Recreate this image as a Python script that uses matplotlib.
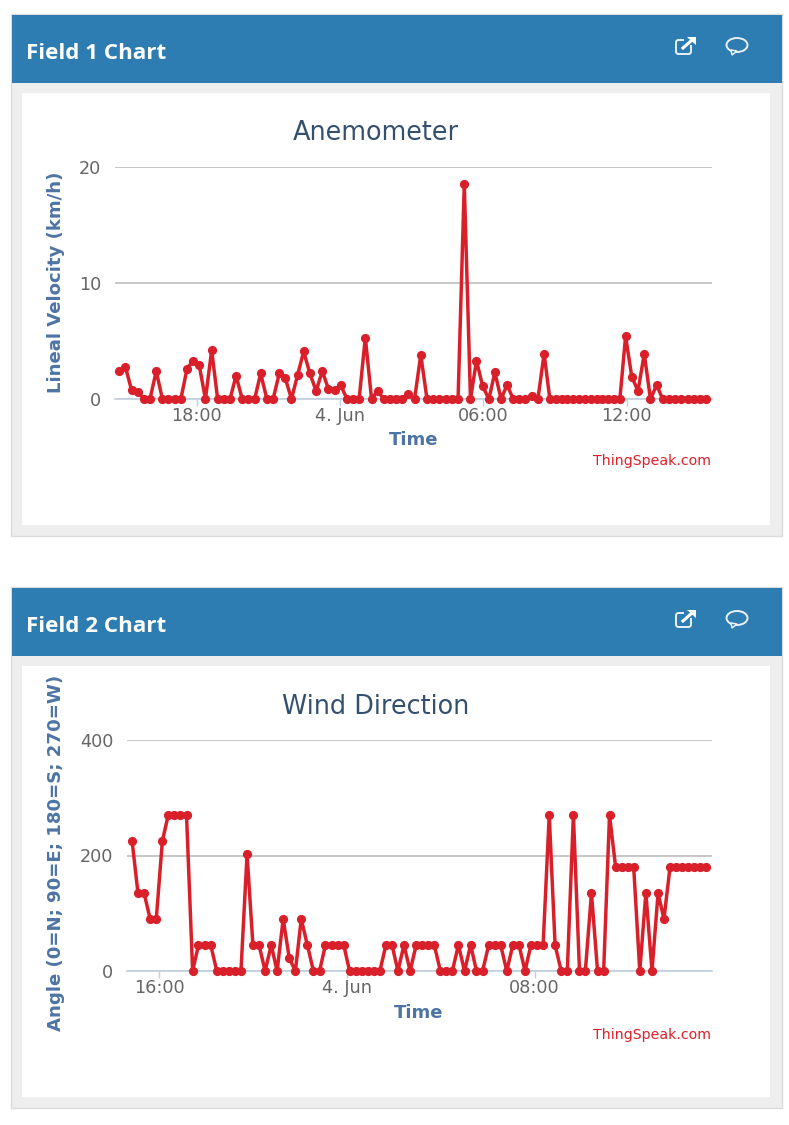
import matplotlib
matplotlib.use("Agg")
import matplotlib.pyplot as plt
from matplotlib.patches import Rectangle, FancyBboxPatch, Ellipse, Polygon

plt.rcParams['font.family'] = ['DejaVu Sans']
W, H = 789, 1125

# ---------- data ----------
hours1 = [-9.23,-8.98,-8.72,-8.46,-8.20,-7.95,-7.69,-7.43,-7.18,-6.92,
          -6.66,-6.40,-6.15,-5.89,-5.63,-5.37,-5.12,-4.86,-4.60,-4.35,
          -4.09,-3.83,-3.57,-3.32,-3.06,-2.80,-2.54,-2.29,-2.03,-1.77,
          -1.52,-1.26,-1.00,-0.74,-0.49,-0.23,0.03,0.29,0.54,0.80,
          1.06,1.32,1.57,1.83,2.09,2.34,2.60,2.86,3.12,3.38,
          3.64,3.90,4.16,4.42,4.68,4.94,5.20,5.46,5.71,5.97,
          6.23,6.48,6.74,6.99,7.25,7.51,7.76,8.02,8.28,8.54,
          8.78,9.02,9.27,9.51,9.76,10.00,10.25,10.49,10.74,10.98,
          11.22,11.47,11.71,11.95,12.21,12.47,12.73,12.99,13.25,13.50,
          13.76,14.02,14.28,14.54,14.80,15.06,15.31]
velocity = [2.4,2.8,.75,.6,0,0,2.4,0,0,0,
            0,2.6,3.3,2.9,0,4.2,0,0,0,2.0,
            0,0,0,2.2,0,0,2.2,1.8,0,2.1,
            4.1,2.2,.7,2.4,.9,.8,1.2,0,0,0,
            5.3,0,.7,0,0,0,0,.4,0,3.8,
            0,0,0,0,0,0,18.5,0,3.3,1.1,
            0,2.3,0,1.2,0,0,0,.3,0,3.9,
            0,0,0,0,0,0,0,0,0,0,
            0,0,0,5.4,1.9,.7,3.9,0,1.2,0,
            0,0,0,0,0,0,0]
ticks1 = [-6, 0, 6, 12]
ticklabels1 = ["18:00", "4. Jun", "06:00", "12:00"]
yticks1 = [0, 10, 20]

hours2 = [-9.16,-8.91,-8.65,-8.39,-8.13,-7.87,-7.62,-7.36,-7.10,-6.84,
          -6.58,-6.33,-6.07,-5.81,-5.55,-5.30,-5.04,-4.78,-4.52,-4.26,
          -4.01,-3.75,-3.49,-3.23,-2.98,-2.72,-2.46,-2.20,-1.95,-1.69,
          -1.43,-1.17,-0.92,-0.66,-0.40,-0.14,0.11,0.37,0.63,0.88,
          1.14,1.40,1.66,1.92,2.17,2.43,2.69,2.95,3.20,3.46,
          3.72,3.98,4.23,4.49,4.75,5.01,5.27,5.52,5.78,6.04,
          6.30,6.55,6.81,7.07,7.33,7.59,7.84,8.10,8.36,8.62,
          8.87,9.13,9.39,9.65,9.91,10.16,10.42,10.68,10.94,11.19,
          11.45,11.71,11.97,12.22,12.48,12.74,13.00,13.26,13.51,13.77,
          14.03,14.29,14.54,14.80,15.06,15.31]
angle = [225,135,135,90,90,225,270,270,270,270,
         0,45,45,45,0,0,0,0,0,202,
         45,45,0,45,0,90,22,0,90,45,
         0,0,45,45,45,45,0,0,0,0,
         0,0,45,45,0,45,0,45,45,45,
         45,0,0,0,45,0,45,0,0,45,
         45,45,0,45,45,0,45,45,45,270,
         45,0,0,270,0,0,135,0,0,270,
         180,180,180,180,0,135,0,135,90,180,
         180,180,180,180,180,180]
ticks2 = [-8, 0, 8]
ticklabels2 = ["16:00", "4. Jun", "08:00"]
yticks2 = [0, 200, 400]

BLUE = "#2e7db2"; PANEL = "#eeeeee"; BORDER = "#dcdcdc"; RED = "#d9202a"
LABEL = "#4d74a3"; TITLE = "#34506f"; TICK = "#666666"

fig = plt.figure(figsize=(W/100, H/100), dpi=100, facecolor="white")
bg = fig.add_axes([0, 0, 1, 1], zorder=0)
bg.set_xlim(0, W); bg.set_ylim(H, 0); bg.axis("off")

def card(top, bottom, name):
    bg.add_patch(Rectangle((11.5, top-1), 771, bottom-top+1, fc=PANEL, ec=BORDER, lw=1))
    bg.add_patch(Rectangle((12.5, top), 770, 68, fc=BLUE, ec="none"))
    bg.add_patch(Rectangle((22.5, top+78), 748, bottom-top-89, fc="white", ec="none"))
    bg.text(26, top+38.5, name, color="white", fontsize=16.1, fontweight="bold",
            family="Open Sans", va="center", ha="left")
    # external-link icon
    y = top + 31
    bg.add_patch(FancyBboxPatch((676, y-6), 15, 14, boxstyle="round,pad=0,rounding_size=2.5",
                                fc="none", ec="#e8f1f7", lw=1.4))
    bg.add_patch(Rectangle((684, y-9), 12, 8, fc=BLUE, ec="none"))
    bg.plot([683, 692], [y+2, y-6], color="white", lw=2.2)
    bg.add_patch(Polygon([[687, y-9], [696, y-9], [696, y-1]], fc="white", ec="none"))
    # comment icon
    bg.add_patch(Ellipse((737, y-1), 21, 14, fc="none", ec="#e8f1f7", lw=1.4))
    bg.add_patch(Polygon([[731, y+4], [732, y+9], [737, y+5]], fc=BLUE, ec="#e8f1f7", lw=1.1))

card(15, 536, "Field 1 Chart")
card(588, 1108, "Field 2 Chart")

def chart(left, right, top, bottom, x0px, pxh, hours, vals, ticks, labels, yticks,
          title, ylabel, title_xy, ylab_xy, xlab_xy, xlab_pxy, credit_y, ymax):
    ax = fig.add_axes([left/W, 1-bottom/H, (right-left)/W, (bottom-top)/H], zorder=2)
    ax.patch.set_alpha(0)
    ax.set_xlim((left-x0px)/pxh, (right-x0px)/pxh)
    ax.set_ylim(0, ymax)
    for s in ["top", "left", "right"]:
        ax.spines[s].set_visible(False)
    ax.spines["bottom"].set_color("#c0d0e0"); ax.spines["bottom"].set_linewidth(1.2)
    ax.set_axisbelow(True)
    ax.grid(axis="y", color="#bdbdbd", lw=1.2)
    ax.set_yticks(yticks); ax.set_xticks(ticks); ax.set_xticklabels(labels)
    ax.tick_params(axis="y", length=0, labelsize=12.7, labelcolor=TICK, pad=10)
    ax.tick_params(axis="x", length=5, width=1, color="#c0d0e0", labelsize=12.7,
                   labelcolor=TICK, pad=1)
    ax.plot(hours, vals, color=RED, lw=2.5, marker="o", ms=5.6, mec=RED, clip_on=False, zorder=5)
    fx = lambda p: (p-left)/(right-left)
    fy = lambda p: (bottom-p)/(bottom-top)
    ax.set_title(title, x=fx(title_xy[0]), y=fy(title_xy[1]), color=TITLE, fontsize=18.4,
                 ha="center", va="center", pad=0)
    ax.set_ylabel(ylabel, color=LABEL, fontsize=13.1, fontweight="bold")
    ax.yaxis.set_label_coords(fx(ylab_xy[0]), fy(ylab_xy[1]))
    ax.set_xlabel("Time", color=LABEL, fontsize=13, fontweight="bold")
    ax.xaxis.set_label_coords(fx(xlab_xy), fy(xlab_pxy))
    ax.xaxis.label.set_va("center")
    ax.yaxis.label.set_va("center")
    ax.text(fx(711), fy(credit_y), "ThingSpeak.com", transform=ax.transAxes, color="#e0202a",
            fontsize=10.2, ha="right", va="center")
    return ax

chart(115, 712, 167, 399, 340, 23.9, hours1, velocity, ticks1, ticklabels1, yticks1,
      "Anemometer", "Lineal Velocity (km/h)", (376, 133), (56, 282), 413.5, 440, 461, 20)
chart(127, 712, 740, 971, 347, 23.46, hours2, angle, ticks2, ticklabels2, yticks2,
      "Wind Direction", "Angle (0=N; 90=E; 180=S; 270=W)", (376, 707), (56, 853), 419, 1013, 1035, 400)

fig.savefig("out.png", dpi=100, facecolor="white")
